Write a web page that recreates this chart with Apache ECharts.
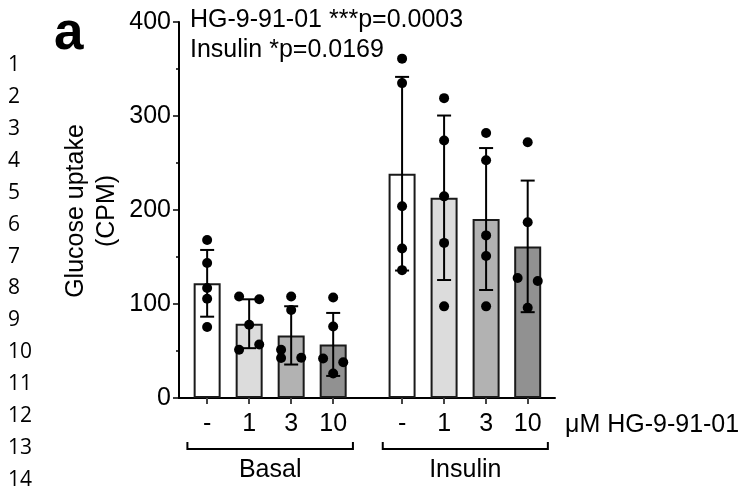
<!DOCTYPE html>
<html>
<head>
<meta charset="utf-8">
<script src="https://cdn.jsdelivr.net/npm/echarts@6/dist/echarts.min.js"></script>
<style>
  html, body { margin: 0; padding: 0; background: #fff; }
  #chart { width: 747px; height: 488px; }
</style>
</head>
<body>
<div id="chart"></div>
<script>
// values
const groups = ['Basal', 'Insulin'];
const doseLabels = ['-', '1', '3', '10', '-', '1', '3', '10'];
const means = [122, 79, 66.6, 57, 238.6, 213, 190.4, 161.3];
const sds = [35.5, 26, 31, 33.5, 103, 87.5, 75.5, 70];
const points = [
  [168, 143.6, 117, 105.6, 75.5],
  [108, 105, 78, 51.4, 57],
  [108, 93.6, 51.4, 42.6, 42.9],
  [107, 76, 42, 38, 26],
  [361, 335, 204, 159, 136],
  [319, 274, 214.5, 165, 97.5],
  [282, 253, 173, 151, 97.5],
  [272, 187, 127.6, 124.5, 96]
];
// -1 left, 0 centre, 1 right of the bar centre
const jitter = [
  [0, 0, 0, 0, 0],
  [-1, 1, 0, -1, 1],
  [0, 0, -1, -1, 1],
  [0, 0, -1, 1, 0],
  [0, 0, 0, 0, 0],
  [0, 0, 0, 0, 0],
  [0, 0, 0, 0, 0],
  [0, 0, -1, 1, 0]
];
const yTicks = [0, 100, 200, 300, 400];

// layout
const xPos = [0.67, 1.67, 2.67, 3.67, 5.31, 6.31, 7.31, 8.3];
const bracketSpan = [[0.2, 4.14], [4.85, 8.78]];
const barColors = ['#ffffff', '#dcdcdc', '#b2b2b2', '#919191'];
const FONT = '"Liberation Sans", Arial, sans-serif';
const INK = '#000';

const chart = echarts.init(document.getElementById('chart'));

function labelFor(v) {
  let best = 0;
  xPos.forEach((x, i) => { if (Math.abs(x - v) < Math.abs(xPos[best] - v)) best = i; });
  return doseLabels[best];
}

const scatterData = [];
points.forEach((arr, i) => {
  arr.forEach((v, j) => scatterData.push([xPos[i] + jitter[i][j] * 0.24, v]));
});

const lineNumbers = [];
for (let n = 1; n <= 14; n++) {
  lineNumbers.push({
    type: 'text', x: 8, y: 65.5 + (n - 1) * 31.85,
    style: { text: String(n), font: '21px "Open Sans", sans-serif', fill: '#000', verticalAlign: 'middle' }
  });
}

const option = {
  animation: false,
  grid: { left: 179, right: 192, top: 22, bottom: 90 },
  xAxis: {
    type: 'value', min: 0, max: 8.95,
    axisLine: { show: true, lineStyle: { color: INK, width: 2 } },
    axisTick: { show: true, customValues: xPos, length: 6, lineStyle: { color: '#444', width: 2 } },
    axisLabel: {
      customValues: xPos, formatter: labelFor, margin: 14,
      color: INK, fontSize: 25, fontFamily: FONT
    },
    splitLine: { show: false }
  },
  yAxis: {
    type: 'value', min: 0, max: 400, interval: 100,
    axisLine: { show: true, lineStyle: { color: INK, width: 2 } },
    axisTick: { show: true, length: 6, lineStyle: { color: INK, width: 1.5 } },
    minorTick: { show: true, splitNumber: 2, length: 3, lineStyle: { color: INK, width: 1.5 } },
    axisLabel: {
      margin: 8, color: INK, fontSize: 25, fontFamily: FONT,
      formatter: (v) => yTicks.includes(v) ? String(v) : ''
    },
    splitLine: { show: false },
    minorSplitLine: { show: false }
  },
  series: [
    {
      type: 'bar', barWidth: 27, z: 2,
      data: means.map((m, i) => ({
        value: [xPos[i], m],
        itemStyle: { color: barColors[i % 4], borderColor: '#1a1a1a', borderWidth: 2 }
      }))
    },
    {
      type: 'custom', z: 3,
      data: means.map((m, i) => [xPos[i], m, sds[i]]),
      encode: { x: 0, y: 1 },
      renderItem: (params, api) => {
        const x = api.value(0), m = api.value(1), s = api.value(2);
        const top = api.coord([x, m + s]);
        const bot = api.coord([x, m - s]);
        const st = { stroke: INK, lineWidth: 2 };
        return {
          type: 'group',
          children: [
            { type: 'line', shape: { x1: top[0], y1: top[1], x2: bot[0], y2: bot[1] }, style: st },
            { type: 'line', shape: { x1: top[0] - 7, y1: top[1], x2: top[0] + 7, y2: top[1] }, style: st },
            { type: 'line', shape: { x1: bot[0] - 7, y1: bot[1], x2: bot[0] + 7, y2: bot[1] }, style: st }
          ]
        };
      }
    },
    {
      type: 'scatter', z: 4, symbol: 'circle', symbolSize: 10,
      itemStyle: { color: '#000', opacity: 1 },
      data: scatterData
    }
  ],
  graphic: lineNumbers.concat([
    { type: 'text', x: 54, y: 34,
      style: { text: 'a', font: 'bold 53px ' + FONT, fill: '#000', verticalAlign: 'middle' } },
    { type: 'text', x: 92, y: 211, rotation: Math.PI / 2,
      style: { text: 'Glucose uptake\n(CPM)', font: '25px ' + FONT, fill: INK,
        align: 'center', verticalAlign: 'middle', lineHeight: 31 } },
    { type: 'text', x: 190, y: 20,
      style: { text: 'HG-9-91-01 ***p=0.0003', font: '25px ' + FONT, fill: INK, verticalAlign: 'middle' } },
    { type: 'text', x: 190, y: 50,
      style: { text: 'Insulin *p=0.0169', font: '25px ' + FONT, fill: INK, verticalAlign: 'middle' } },
    { type: 'text', x: 565, y: 425,
      style: { text: 'μM HG-9-91-01', font: '25px ' + FONT, fill: INK, verticalAlign: 'middle' } }
  ])
};

chart.setOption(option);

// group brackets under the dose labels
const brackets = [];
bracketSpan.forEach((span, i) => {
  const a = chart.convertToPixel({ gridIndex: 0 }, [span[0], 0]);
  const b = chart.convertToPixel({ gridIndex: 0 }, [span[1], 0]);
  const y = a[1] + 51;
  brackets.push({
    type: 'polyline',
    shape: { points: [[a[0], y - 7], [a[0], y], [b[0], y], [b[0], y - 7]] },
    style: { stroke: INK, lineWidth: 2, fill: null }
  });
  brackets.push({
    type: 'text', x: (a[0] + b[0]) / 2, y: y + 21,
    style: { text: groups[i], font: '25px ' + FONT, fill: INK, align: 'center', verticalAlign: 'middle' }
  });
});
chart.setOption({ graphic: option.graphic.concat(brackets) });
</script>
</body>
</html>
